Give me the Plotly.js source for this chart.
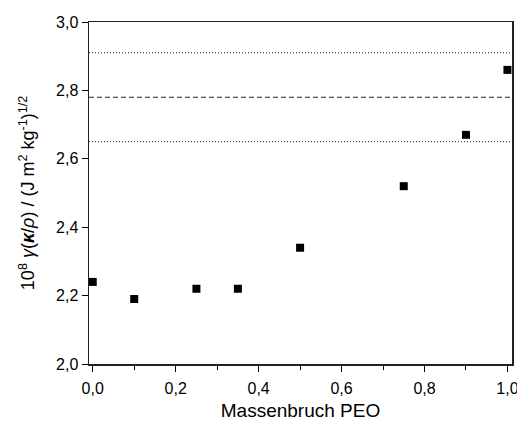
<!DOCTYPE html>
<html>
<head>
<meta charset="utf-8">
<script src="https://cdn.plot.ly/plotly-3.0.1.min.js"></script>
<style>html,body{margin:0;padding:0;background:#fff;}#chart{width:517px;height:421px;}</style>
</head>
<body>
<div id="chart"></div>
<script>
const massFraction = [0.0, 0.1, 0.25, 0.35, 0.5, 0.75, 0.9, 1.0];
const gammaValues = [2.24, 2.19, 2.22, 2.22, 2.34, 2.52, 2.67, 2.86];
const refUpper = 2.91;
const refMean = 2.78;
const refLower = 2.65;

const traces = [{
  x: massFraction,
  y: gammaValues,
  type: 'scatter',
  mode: 'markers',
  marker: {symbol: 'square', size: 8, color: '#000'},
  showlegend: false,
  hoverinfo: 'x+y'
}];

function hline(y, dash) {
  return {type: 'line', xref: 'paper', x0: 0, x1: 1, yref: 'y', y0: y, y1: y,
          line: {color: '#222', width: 1, dash: dash}};
}

const layout = {
  width: 517, height: 421,
  margin: {l: 89, r: 5, t: 22, b: 57},
  separators: ',.',
  paper_bgcolor: '#fff', plot_bgcolor: '#fff',
  font: {family: 'Liberation Sans, Arial, sans-serif', color: '#000', size: 15},
  showlegend: false,
  xaxis: {
    range: [-0.009, 1.011],
    tickvals: [0, 0.2, 0.4, 0.6, 0.8, 1.0],
    tickformat: '.1f',
    ticks: 'outside', ticklen: 6, tickwidth: 1, tickcolor: '#000',
    minor: {dtick: 0.1, tick0: 0, ticks: 'outside', ticklen: 4, tickcolor: '#000'},
    showline: true, linecolor: '#222', linewidth: 1.5, mirror: true,
    showgrid: false, zeroline: false,
    tickfont: {size: 16},
    ticklabeloverflow: 'allow',
    ticklabelstandoff: 3,
    automargin: false,
    title: {text: 'Massenbruch PEO', font: {size: 19}, standoff: 8}
  },
  yaxis: {
    range: [2.0, 3.0],
    dtick: 0.2, tick0: 2.0,
    tickformat: '.1f',
    ticks: 'outside', ticklen: 6, tickwidth: 1, tickcolor: '#000',
    showline: true, linecolor: '#222', linewidth: 1.5, mirror: true,
    showgrid: false, zeroline: false,
    tickfont: {size: 16},
    automargin: false,
    title: {text: '10<sup>8</sup> <i>γ</i>(<i><b>κ</b></i>/<i>ρ</i>) / (J m<sup>2</sup> kg<sup>-1</sup>)<sup>1/2</sup>', font: {size: 18}, standoff: 16}
  },
  shapes: [hline(refUpper, '1px,2px'), hline(refMean, '5px,3px'), hline(refLower, '1px,2px')]
};

Plotly.newPlot('chart', traces, layout, {staticPlot: true, displayModeBar: false});
</script>
</body>
</html>
